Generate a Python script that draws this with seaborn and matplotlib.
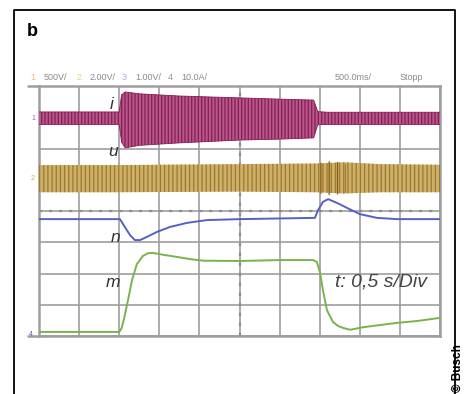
#!/usr/bin/env python3
"""
Oscilloscope capture: motor current i, voltage u, speed n and torque m
during a load step (0.5 s/Div)
"""

import matplotlib
matplotlib.use("Agg")
import matplotlib.pyplot as plt
import seaborn as sns
import pandas as pd
from matplotlib.lines import Line2D

# ---- data (in screen divisions: x 0..10, y 0..8) ----
# current i: envelope of the oscillating trace
i_t = [0.0, 2.0, 2.06, 2.15, 2.5, 3.5, 5.0, 6.0, 6.85, 6.95, 7.2, 10.0]
i_upper = [7.17, 7.17, 7.72, 7.81, 7.75, 7.68, 7.62, 7.58, 7.55, 7.18, 7.16, 7.16]
i_lower = [6.77, 6.77, 6.20, 6.02, 6.10, 6.18, 6.27, 6.30, 6.34, 6.76, 6.77, 6.77]

# voltage u: noisy band, heavier burst after the load is removed
u_t = [0.0, 2.0, 5.0, 6.9, 7.6, 8.5, 10.0]
u_upper = [5.47, 5.47, 5.50, 5.52, 5.56, 5.50, 5.48]
u_lower = [4.60, 4.60, 4.62, 4.60, 4.56, 4.60, 4.60]
burst_t = [6.95, 7.1, 7.3, 7.5, 7.65]
burst_upper = [5.50, 5.58, 5.60, 5.56, 5.50]
burst_lower = [4.58, 4.52, 4.50, 4.54, 4.58]

# speed n
n_t = [0.0, 2.02, 2.14, 2.27, 2.39, 2.52, 2.69, 2.94, 3.27, 3.69, 4.19, 5.01,
       6.88, 6.96, 7.08, 7.21, 7.43, 7.68, 8.00, 8.43, 8.93, 10.0]
n_y = [3.74, 3.74, 3.49, 3.23, 3.07, 3.07, 3.17, 3.33, 3.49, 3.62, 3.71, 3.74,
       3.78, 4.03, 4.29, 4.38, 4.26, 4.10, 3.90, 3.78, 3.74, 3.74]

# torque m
m_t = [0.0, 2.0, 2.06, 2.12, 2.22, 2.32, 2.44, 2.59, 2.72, 2.84, 3.09, 3.44,
       3.77, 4.09, 5.01, 6.01, 6.83, 6.93, 7.01, 7.08, 7.18, 7.33, 7.46, 7.58,
       7.76, 8.08, 8.50, 8.93, 9.43, 10.0]
m_y = [0.13, 0.13, 0.25, 0.55, 1.15, 1.79, 2.30, 2.56, 2.65, 2.66, 2.60, 2.53,
       2.46, 2.41, 2.40, 2.43, 2.43, 2.37, 2.02, 1.47, 0.83, 0.45, 0.32, 0.26,
       0.20, 0.28, 0.35, 0.42, 0.48, 0.58]

header = [("1", "500V/"), ("2", "2.00V/"), ("3", "1.00V/"), ("4", "10.0A/")]
header_x = [33, 79, 124, 170]
timebase = "500.0ms/"
status = "Stopp"

# ---- style ----
sns.set_style("white")
plt.rcParams['font.family'] = ['Liberation Sans', 'DejaVu Sans']
plt.rcParams['hatch.linewidth'] = 0.9

W, H = 465, 394
fig = plt.figure(figsize=(W / 100, H / 100), dpi=100)
ax = fig.add_axes([39 / W, 1 - 336 / H, 401 / W, 250 / H])

grid_col = '#9e9e9e'
pink_fill, pink_line = '#b5588a', '#8a1c55'
olive_fill, olive_line = '#cdb06a', '#9c7a2c'
blue = '#5561c4'
green = '#78b34e'

# graticule
ax.set_xlim(0, 10)
ax.set_ylim(0, 8)
ax.set_xticks(range(11))
ax.set_yticks(range(9))
ax.grid(True, color=grid_col, lw=1.2)
ax.tick_params(length=0, labelbottom=False, labelleft=False)
for s in ax.spines.values():
    s.set_color(grid_col)
    s.set_linewidth(1.8)
ax.axhline(4, color='#8d8d8d', lw=1.6, ls=(0, (1.5, 3)))
ax.axvline(5, color='#8d8d8d', lw=1.6, ls=(0, (1.5, 3)))
# top and bottom frame lines run a bit past the left edge
for yy in (8, 0):
    ax.plot([-0.27, 0], [yy, yy], color=grid_col, lw=1.8, clip_on=False)

# i trace
ax.fill_between(i_t, i_lower, i_upper, facecolor=pink_fill, edgecolor=pink_line,
                hatch='|||||', linewidth=0, zorder=3)
sns.lineplot(x=i_t, y=i_upper, ax=ax, color=pink_line, lw=0.6, zorder=4)
sns.lineplot(x=i_t, y=i_lower, ax=ax, color=pink_line, lw=0.6, zorder=4)

# u trace
ax.fill_between(u_t, u_lower, u_upper, facecolor=olive_fill, edgecolor=olive_line,
                hatch='||||', linewidth=0, zorder=3)
ax.fill_between(burst_t, burst_lower, burst_upper, facecolor='none',
                edgecolor='#8a5a18', hatch='||', linewidth=0, zorder=3)

# n and m traces
df_n = pd.DataFrame({'t': n_t, 'val': n_y})
df_m = pd.DataFrame({'t': m_t, 'val': m_y})
sns.lineplot(data=df_n, x='t', y='val', ax=ax, color=blue, lw=1.4, zorder=5)
sns.lineplot(data=df_m, x='t', y='val', ax=ax, color=green, lw=1.4, zorder=5)
ax.set_xlabel('')
ax.set_ylabel('')

# trace labels
lab = dict(fontsize=12.5, style='italic', color='#333333', ha='center',
           va='center', zorder=6)
ax.text(1.82, 7.42, 'i', **lab)
ax.text(1.85, 5.89, 'u', **lab)
ax.text(1.90, 3.14, 'n', **lab)
ax.text(1.85, 1.70, 'm', **lab)
ax.text(7.38, 1.73, 't: 0,5 s/Div', fontsize=14, style='italic',
        color='#444444', ha='left', va='center', zorder=6)

# channel markers at the left edge
ax.text(-0.15, 6.97, '1', fontsize=5, color=pink_fill, ha='center', va='center',
        clip_on=False)
ax.text(-0.15, 5.05, '2', fontsize=5, color=olive_fill, ha='center', va='center',
        clip_on=False)
ax.text(-0.2, 0.05, '4', fontsize=5, color=blue, ha='center', va='center',
        clip_on=False)

# header line
hdr_y = 1 - 77 / H
ch_cols = ['#e8c070', '#e6d28a', '#9fb7d8', '#999999']
for (ch, val), x, c in zip(header, header_x, ch_cols):
    fig.text(x / W, hdr_y, ch, fontsize=6.5, color=c, ha='center', va='center')
    fig.text((x + 11) / W, hdr_y, val, fontsize=6.5, color='#8a8a8a',
             ha='left', va='center')
fig.text(335 / W, hdr_y, timebase, fontsize=6.5, color='#8a8a8a', ha='left', va='center')
fig.text(400 / W, hdr_y, status, fontsize=6.5, color='#8a8a8a', ha='left', va='center')

# outer frame (open at the bottom edge of the crop)
fig.add_artist(Line2D([14 / W, 14 / W, 455 / W, 455 / W], [0, 1 - 10 / H, 1 - 10 / H, 0],
                      color='black', lw=1.3))

fig.text(27 / W, 1 - 31 / H, 'b', fontsize=13, fontweight='bold', color='black',
         ha='left', va='center')
fig.text(458 / W, 2 / H, '© Busch', fontsize=8.5, fontweight='bold', color='black',
         rotation=90, ha='center', va='bottom')

plt.savefig('out.png', dpi=100)
plt.close()
